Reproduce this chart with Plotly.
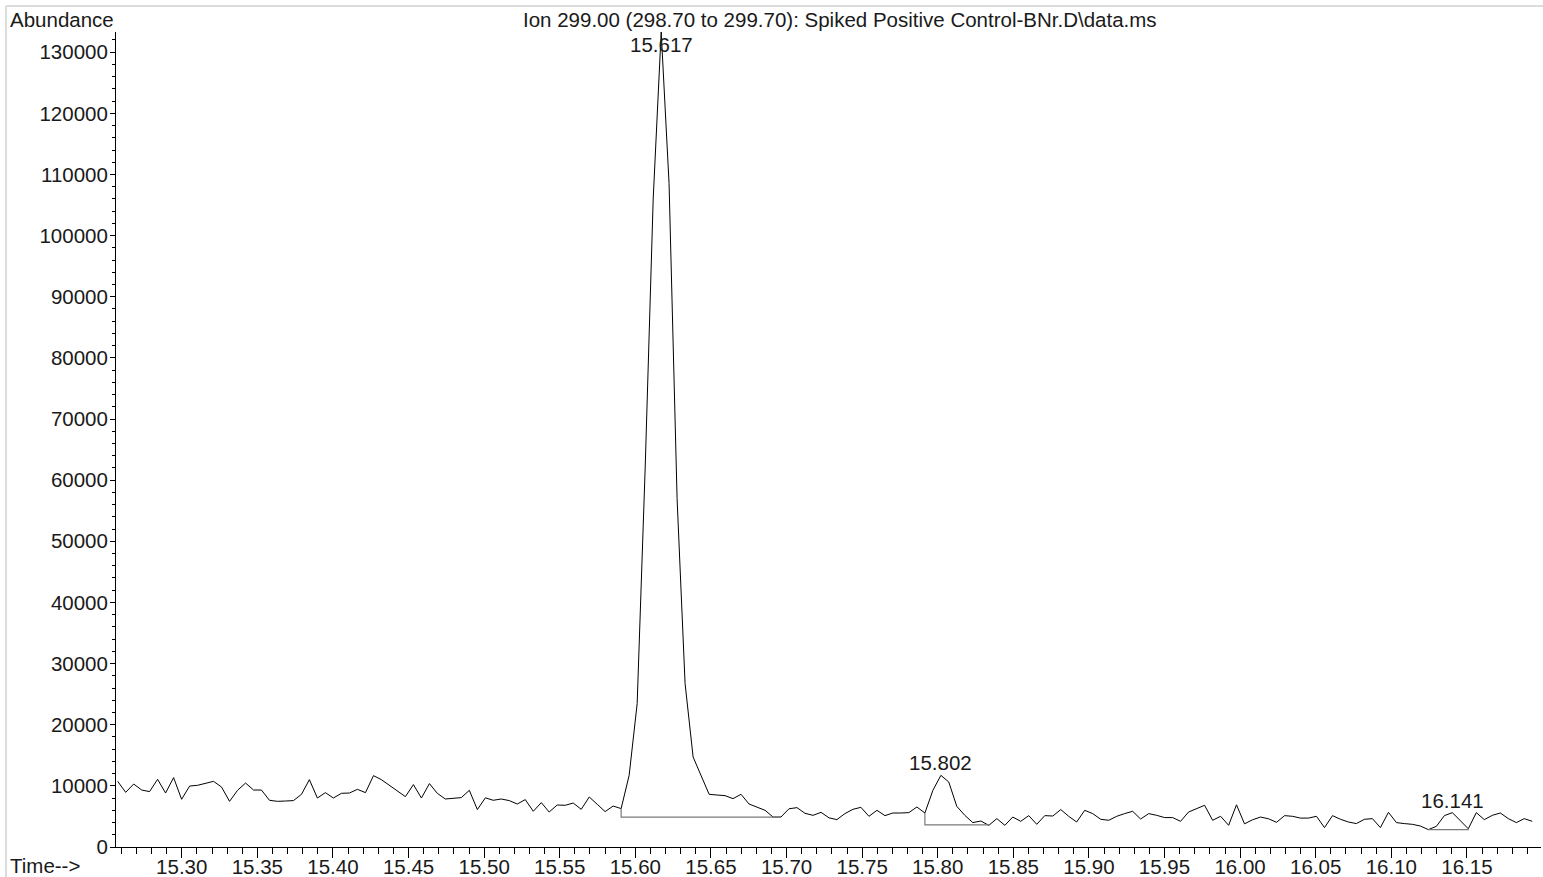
import plotly.graph_objects as go

# ---------------- data ----------------
times = [
    15.2576, 15.2629, 15.2682, 15.2735, 15.2787, 15.2840, 15.2893, 15.2946, 15.2999, 15.3052,
    15.3105, 15.3157, 15.3210, 15.3263, 15.3316, 15.3369, 15.3422, 15.3475, 15.3527, 15.3580,
    15.3633, 15.3686, 15.3739, 15.3792, 15.3844, 15.3897, 15.3950, 15.4003, 15.4056, 15.4109,
    15.4162, 15.4215, 15.4268, 15.4320, 15.4373, 15.4426, 15.4479, 15.4532, 15.4585, 15.4638,
    15.4690, 15.4743, 15.4796, 15.4849, 15.4902, 15.4955, 15.5008, 15.5060, 15.5113, 15.5166,
    15.5219, 15.5272, 15.5325, 15.5378, 15.5430, 15.5483, 15.5536, 15.5589, 15.5642, 15.5695,
    15.5748, 15.5800, 15.5853, 15.5906, 15.5959, 15.6012, 15.6065, 15.6118, 15.6171, 15.6223,
    15.6276, 15.6329, 15.6382, 15.6435, 15.6488, 15.6541, 15.6593, 15.6646, 15.6699, 15.6752,
    15.6805, 15.6858, 15.6911, 15.6963, 15.7016, 15.7069, 15.7122, 15.7175, 15.7228, 15.7281,
    15.7333, 15.7386, 15.7439, 15.7492, 15.7545, 15.7598, 15.7651, 15.7703, 15.7756, 15.7809,
    15.7862, 15.7915, 15.7968, 15.8021, 15.8073, 15.8126, 15.8179, 15.8232, 15.8285, 15.8338,
    15.8391, 15.8444, 15.8496, 15.8549, 15.8602, 15.8655, 15.8708, 15.8761, 15.8814, 15.8866,
    15.8919, 15.8972, 15.9025, 15.9078, 15.9131, 15.9184, 15.9236, 15.9289, 15.9342, 15.9395,
    15.9448, 15.9501, 15.9554, 15.9606, 15.9659, 15.9712, 15.9765, 15.9818, 15.9871, 15.9924,
    15.9976, 16.0029, 16.0082, 16.0135, 16.0188, 16.0241, 16.0294, 16.0346, 16.0399, 16.0452,
    16.0505, 16.0558, 16.0611, 16.0664, 16.0716, 16.0769, 16.0822, 16.0875, 16.0928, 16.0981,
    16.1034, 16.1086, 16.1139, 16.1192, 16.1245, 16.1298, 16.1351, 16.1404, 16.1456, 16.1509,
    16.1562, 16.1615, 16.1668, 16.1721, 16.1774, 16.1827, 16.1879, 16.1932,
]

abundance = [
    10740, 8940, 10300, 9320, 9060, 11070, 8830, 11350, 7800, 9970,
    10090, 10370, 10740, 9810, 7470, 9270, 10460, 9320, 9320, 7640,
    7470, 7520, 7590, 8620, 11020, 8010, 8890, 8010, 8780, 8830,
    9430, 8890, 11670, 11020, 10140, 9220, 8240, 10200, 8010, 10370,
    8780, 7850, 7960, 8080, 9270, 6120, 8040, 7640, 7850, 7590,
    7030, 7750, 5840, 7260, 5720, 6870, 6820, 7190, 6160, 8180,
    6980, 5790, 6700, 6280, 11720, 23450, 62000, 106000, 133300, 108500,
    57000, 26720, 14720, 11610, 8620, 8500, 8400, 7910, 8620, 7030,
    6540, 6000, 4900, 4900, 6250, 6440, 5510, 5180, 5670, 4770,
    4480, 5460, 6160, 6490, 5020, 6000, 5130, 5560, 5560, 5620,
    6540, 5560, 9270, 11720, 10630, 6650, 5180, 3990, 4250, 3550,
    4640, 3550, 4900, 4200, 5130, 3710, 5130, 5070, 6120, 5020,
    4090, 6000, 5460, 4530, 4370, 5020, 5460, 5840, 4580, 5460,
    5180, 4810, 4810, 4200, 5720, 6330, 6820, 4370, 5020, 3550,
    6900, 3790, 4450, 4900, 4610, 4040, 5130, 5020, 4730, 4730,
    5020, 3170, 5130, 4530, 4090, 3830, 4530, 4640, 3170, 5670,
    3990, 3830, 3710, 3430, 2845, 3380, 5130, 5620, 4250, 2980,
    5620, 4480, 5180, 5560, 4640, 3990, 4640, 4200,
]

# integrated peaks
peak_labels = ["15.617", "15.802", "16.141"]
baseline_start = [15.5906, 15.7915, 16.1245]
baseline_end = [15.6963, 15.8338, 16.1509]
baseline_level = [4900, 3630, 2845]

x_ticks_major = 0.05
x_ticks_minor = 0.01
title_text = "Ion 299.00 (298.70 to 299.70): Spiked Positive Control-BNr.D\\data.ms"

# ---------------- styling ----------------
W, H = 1543, 877
ML, MR, MT, MB = 116, 2, 32, 30
PW, PH = W - ML - MR, H - MT - MB
FONT = "Liberation Sans, Arial, Helvetica, sans-serif"
FS = 20.5
label_yshift = [-12, 12.5, 12]

x_range = [15.2565, 16.1990]
y_max = max(abundance)


def px_to_paper_x(px):
    return (px - ML) / PW


def px_to_paper_y(py):
    return (H - MB - py) / PH


fig = go.Figure()

fig.add_trace(go.Scatter(
    x=times, y=abundance, mode="lines",
    line=dict(color="black", width=1), hoverinfo="skip", showlegend=False,
))

annotations = []
for i, lab in enumerate(peak_labels):
    i0 = times.index(baseline_start[i])
    i1 = times.index(baseline_end[i])
    seg = abundance[i0:i1 + 1]
    j = i0 + seg.index(max(seg))
    # baseline with drop line at the start
    fig.add_trace(go.Scatter(
        x=[times[i0], times[i0], times[i1], times[i1]],
        y=[abundance[i0], baseline_level[i], baseline_level[i], abundance[i1]],
        mode="lines", line=dict(color="#7a7a7a", width=1.2),
        hoverinfo="skip", showlegend=False,
    ))
    annotations.append(dict(
        x=times[j], y=abundance[j], xref="x", yref="y", text=lab,
        showarrow=False, xanchor="center", yanchor="middle",
        yshift=label_yshift[i], font=dict(family=FONT, size=FS, color="#1a1a1a"),
    ))

annotations += [
    dict(x=px_to_paper_x(8), y=px_to_paper_y(19), xref="paper", yref="paper",
         text="Abundance", showarrow=False, xanchor="left", yanchor="middle",
         font=dict(family=FONT, size=FS, color="#1a1a1a")),
    dict(x=px_to_paper_x(840), y=px_to_paper_y(19), xref="paper", yref="paper",
         text=title_text, showarrow=False, xanchor="center", yanchor="middle",
         font=dict(family=FONT, size=FS, color="#1a1a1a")),
    dict(x=px_to_paper_x(8), y=px_to_paper_y(865), xref="paper", yref="paper",
         text="Time-->", showarrow=False, xanchor="left", yanchor="middle",
         font=dict(family=FONT, size=FS, color="#1a1a1a")),
]

frame_col = "#dcdcdc"
shapes = [
    dict(type="line", xref="paper", yref="paper",
         x0=px_to_paper_x(6), x1=px_to_paper_x(W), y0=px_to_paper_y(6), y1=px_to_paper_y(6),
         line=dict(color=frame_col, width=2)),
    dict(type="line", xref="paper", yref="paper",
         x0=px_to_paper_x(6), x1=px_to_paper_x(6), y0=px_to_paper_y(6), y1=px_to_paper_y(H),
         line=dict(color=frame_col, width=2)),
]

fig.update_layout(
    template="none",
    width=W, height=H,
    margin=dict(l=ML, r=MR, t=MT, b=MB, pad=0),
    paper_bgcolor="white", plot_bgcolor="white",
    font=dict(family=FONT, size=FS, color="#1a1a1a"),
    showlegend=False,
    annotations=annotations,
    shapes=shapes,
    hovermode=False,
)

fig.update_xaxes(
    range=x_range, showgrid=False, zeroline=False, automargin=False,
    showline=True, linecolor="black", linewidth=1,
    ticks="outside", ticklen=10, tickwidth=1, tickcolor="black",
    tick0=15.30, dtick=x_ticks_major, tickformat=".2f",
    ticklabelstandoff=-9,
    tickfont=dict(family=FONT, size=FS, color="#1a1a1a"),
    minor=dict(ticks="outside", ticklen=6, tickwidth=1, tickcolor="black",
               tick0=15.30, dtick=x_ticks_minor, showgrid=False),
)
fig.update_yaxes(
    range=[0, y_max], showgrid=False, zeroline=False, automargin=False,
    showline=True, linecolor="black", linewidth=1,
    ticks="outside", ticklen=5, tickwidth=1, tickcolor="black",
    tick0=0, dtick=10000, tickformat="d",
    ticklabelstandoff=-2,
    tickfont=dict(family=FONT, size=FS, color="#1a1a1a"),
    minor=dict(ticks="outside", ticklen=3, tickwidth=1, tickcolor="black",
               tick0=0, dtick=2000, showgrid=False),
)

fig.write_html("out.html", config={"displayModeBar": False},
               post_script="document.body.style.margin='0';")
